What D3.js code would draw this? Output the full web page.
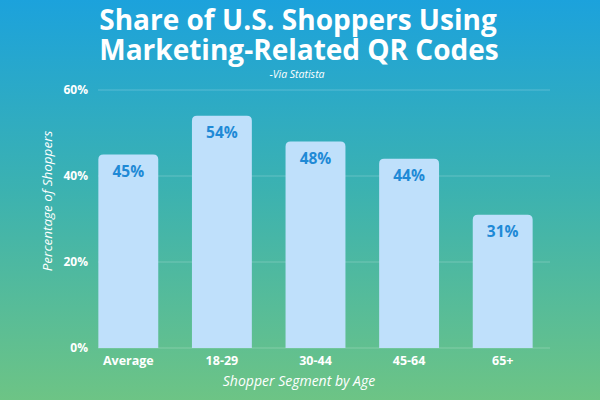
<!DOCTYPE html>
<html><head><meta charset="utf-8">
<script src="https://cdn.jsdelivr.net/npm/d3@7"></script>
<style>html,body{margin:0;padding:0;}svg{display:block;}</style>
</head><body>
<script>
const categories = ["Average", "18-29", "30-44", "45-64", "65+"];
const values = [45, 54, 48, 44, 31];
const tickValues = [0, 20, 40, 60];

const W = 600, H = 400;
const svg = d3.select("body").append("svg").attr("width", W).attr("height", H);
const defs = svg.append("defs");
const grad = defs.append("linearGradient").attr("id", "bg").attr("x1", 0).attr("y1", 0).attr("x2", 0).attr("y2", 1);
grad.append("stop").attr("offset", "0%").attr("stop-color", "#1ca2dc");
grad.append("stop").attr("offset", "48%").attr("stop-color", "#3cb2b0");
grad.append("stop").attr("offset", "100%").attr("stop-color", "#6dc485");
svg.append("rect").attr("width", W).attr("height", H).attr("fill", "url(#bg)");

const font = "'Open Sans', sans-serif";
const x = d3.scaleBand().domain(categories).range([81.5, 549.5]).paddingInner(0.36).paddingOuter(0.18);
const y = d3.scaleLinear().domain([0, 60]).range([348, 90]);

// gridlines
svg.append("g").selectAll("line").data(tickValues).join("line")
  .attr("x1", 98).attr("x2", 550)
  .attr("y1", d => y(d)).attr("y2", d => y(d))
  .attr("stroke", "rgba(255,255,255,0.22)").attr("stroke-width", 1.2);

// y axis
const yAxis = svg.append("g").attr("transform", "translate(88,0)")
  .call(d3.axisLeft(y).tickValues(tickValues).tickFormat(d => d + "%").tickSize(0).tickPadding(0));
yAxis.select(".domain").remove();
yAxis.selectAll("text").attr("fill", "#fff").attr("font-family", font).attr("font-weight", 700).attr("font-size", 12);

// bars
const r = 5;
svg.append("g").selectAll("path").data(values).join("path")
  .attr("fill", "#bfe0fb")
  .attr("d", (d, i) => {
    const x0 = x(categories[i]), w = x.bandwidth(), y0 = y(d), y1 = y(0);
    return `M${x0},${y1}V${y0 + r}Q${x0},${y0} ${x0 + r},${y0}H${x0 + w - r}Q${x0 + w},${y0} ${x0 + w},${y0 + r}V${y1}Z`;
  });

// value labels
svg.append("g").selectAll("text").data(values).join("text")
  .attr("x", (d, i) => x(categories[i]) + x.bandwidth() / 2)
  .attr("y", d => y(d) + 22)
  .attr("text-anchor", "middle")
  .attr("fill", "#1f8ad6").attr("font-family", font).attr("font-weight", 700).attr("font-size", 15.5)
  .text(d => d + "%");

// x axis
const xAxis = svg.append("g").attr("transform", "translate(0,348)")
  .call(d3.axisBottom(x).tickSize(0).tickPadding(8));
xAxis.select(".domain").remove();
xAxis.selectAll("text").attr("fill", "#fff").attr("font-family", font).attr("font-weight", 700).attr("font-size", 12.5);

// titles
svg.append("text").attr("x", 298).attr("y", 30).attr("text-anchor", "middle")
  .attr("fill", "#fff").attr("font-family", font).attr("font-weight", 700).attr("font-size", 28)
  .text("Share of U.S. Shoppers Using");
svg.append("text").attr("x", 299).attr("y", 60).attr("text-anchor", "middle")
  .attr("fill", "#fff").attr("font-family", font).attr("font-weight", 700).attr("font-size", 28)
  .text("Marketing-Related QR Codes");
svg.append("text").attr("x", 297).attr("y", 78).attr("text-anchor", "middle")
  .attr("fill", "#fff").attr("font-family", font).attr("font-style", "italic").attr("font-size", 10.5)
  .text("-Via Statista");

svg.append("text").attr("x", 299).attr("y", 386).attr("text-anchor", "middle")
  .attr("fill", "#fff").attr("font-family", font).attr("font-style", "italic").attr("font-size", 14)
  .text("Shopper Segment by Age");
svg.append("text").attr("transform", "translate(52,201) rotate(-90)").attr("text-anchor", "middle")
  .attr("fill", "#fff").attr("font-family", font).attr("font-style", "italic").attr("font-size", 13.5)
  .text("Percentage of Shoppers");
</script>
</body></html>
